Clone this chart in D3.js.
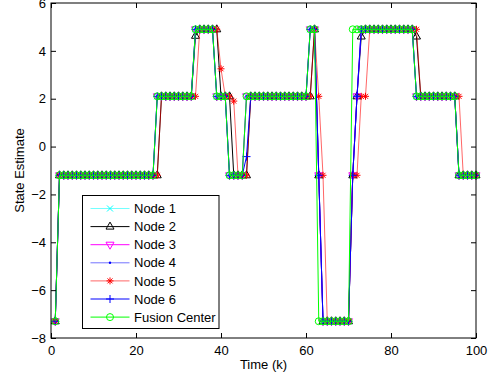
<!DOCTYPE html>
<html>
<head>
<meta charset="utf-8">
<script src="https://cdn.jsdelivr.net/npm/d3@7"></script>
<style>
  html, body { margin: 0; padding: 0; background: #fff; }
  svg { display: block; }
  text { font-family: "Liberation Sans", Arial, Helvetica, sans-serif; }
</style>
</head>
<body>
<svg id="chart" width="493" height="380"></svg>
<script>
// ---- data ----
const timeSteps = d3.range(1, 101); // k = 1..100

const fusionCenter = [
  -7.3, -1.2, -1.2, -1.2, -1.2, -1.2, -1.2, -1.2, -1.2, -1.2,
  -1.2, -1.2, -1.2, -1.2, -1.2, -1.2, -1.2, -1.2, -1.2, -1.2,
  -1.2, -1.2, -1.2, -1.2, 2.1, 2.1, 2.1, 2.1, 2.1, 2.1,
  2.1, 2.1, 2.1, 4.9, 4.9, 4.9, 4.9, 4.9, 2.1, 2.1,
  2.1, -1.2, -1.2, -1.2, -1.2, 2.1, 2.1, 2.1, 2.1, 2.1,
  2.1, 2.1, 2.1, 2.1, 2.1, 2.1, 2.1, 2.1, 2.1, 2.1,
  4.9, 4.9, -7.3, -7.3, -7.3, -7.3, -7.3, -7.3, -7.3, -7.3,
  4.9, 4.9, 4.9, 4.9, 4.9, 4.9, 4.9, 4.9, 4.9, 4.9,
  4.9, 4.9, 4.9, 4.9, 4.9, 2.1, 2.1, 2.1, 2.1, 2.1,
  2.1, 2.1, 2.1, 2.1, 2.1, -1.2, -1.2, -1.2, -1.2, -1.2
];

const node1 = [
  -7.3, -1.2, -1.2, -1.2, -1.2, -1.2, -1.2, -1.2, -1.2, -1.2,
  -1.2, -1.2, -1.2, -1.2, -1.2, -1.2, -1.2, -1.2, -1.2, -1.2,
  -1.2, -1.2, -1.2, -1.2, 2.1, 2.1, 2.1, 2.1, 2.1, 2.1,
  2.1, 2.1, 2.1, 4.9, 4.9, 4.9, 4.9, 4.9, 2.1, 2.1,
  2.1, -1.2, -1.2, -1.2, -1.2, 2.1, 2.1, 2.1, 2.1, 2.1,
  2.1, 2.1, 2.1, 2.1, 2.1, 2.1, 2.1, 2.1, 2.1, 2.1,
  4.9, 4.9, -1.2, -7.3, -7.3, -7.3, -7.3, -7.3, -7.3, -7.3,
  -1.2, 2.1, 4.9, 4.9, 4.9, 4.9, 4.9, 4.9, 4.9, 4.9,
  4.9, 4.9, 4.9, 4.9, 4.9, 2.1, 2.1, 2.1, 2.1, 2.1,
  2.1, 2.1, 2.1, 2.1, 2.1, -1.2, -1.2, -1.2, -1.2, -1.2
];

const node2 = [
  -7.3, -1.2, -1.2, -1.2, -1.2, -1.2, -1.2, -1.2, -1.2, -1.2,
  -1.2, -1.2, -1.2, -1.2, -1.2, -1.2, -1.2, -1.2, -1.2, -1.2,
  -1.2, -1.2, -1.2, -1.2, -1.2, 2.1, 2.1, 2.1, 2.1, 2.1,
  2.1, 2.1, 2.1, 4.63, 4.9, 4.9, 4.9, 4.9, 4.9, 2.1,
  2.1, 2.1, -1.2, -1.2, -1.2, -1.2, 2.1, 2.1, 2.1, 2.1,
  2.1, 2.1, 2.1, 2.1, 2.1, 2.1, 2.1, 2.1, 2.1, 2.1,
  2.1, 4.9, -1.2, -7.3, -7.3, -7.3, -7.3, -7.3, -7.3, -7.3,
  -1.2, 2.1, 4.6, 4.9, 4.9, 4.9, 4.9, 4.9, 4.9, 4.9,
  4.9, 4.9, 4.9, 4.9, 4.9, 4.6, 2.1, 2.1, 2.1, 2.1,
  2.1, 2.1, 2.1, 2.1, 2.1, -1.2, -1.2, -1.2, -1.2, -1.2
];

const node3 = [
  -7.3, -1.2, -1.2, -1.2, -1.2, -1.2, -1.2, -1.2, -1.2, -1.2,
  -1.2, -1.2, -1.2, -1.2, -1.2, -1.2, -1.2, -1.2, -1.2, -1.2,
  -1.2, -1.2, -1.2, -1.2, 2.1, 2.1, 2.1, 2.1, 2.1, 2.1,
  2.1, 2.1, 2.1, 4.9, 4.9, 4.9, 4.9, 4.9, 2.1, 2.1,
  2.1, -1.2, -1.2, -1.2, -1.2, 2.1, 2.1, 2.1, 2.1, 2.1,
  2.1, 2.1, 2.1, 2.1, 2.1, 2.1, 2.1, 2.1, 2.1, 2.1,
  4.9, 4.9, -1.2, -7.3, -7.3, -7.3, -7.3, -7.3, -7.3, -7.3,
  -1.2, 2.1, 4.9, 4.9, 4.9, 4.9, 4.9, 4.9, 4.9, 4.9,
  4.9, 4.9, 4.9, 4.9, 4.9, 2.1, 2.1, 2.1, 2.1, 2.1,
  2.1, 2.1, 2.1, 2.1, 2.1, -1.2, -1.2, -1.2, -1.2, -1.2
];

const node4 = [
  -7.3, -1.2, -1.2, -1.2, -1.2, -1.2, -1.2, -1.2, -1.2, -1.2,
  -1.2, -1.2, -1.2, -1.2, -1.2, -1.2, -1.2, -1.2, -1.2, -1.2,
  -1.2, -1.2, -1.2, -1.2, 2.1, 2.1, 2.1, 2.1, 2.1, 2.1,
  2.1, 2.1, 2.1, 4.9, 4.9, 4.9, 4.9, 4.9, 2.1, 2.1,
  2.1, -1.2, -1.2, -1.2, -1.2, 2.1, 2.1, 2.1, 2.1, 2.1,
  2.1, 2.1, 2.1, 2.1, 2.1, 2.1, 2.1, 2.1, 2.1, 2.1,
  4.9, 4.9, -1.2, -7.3, -7.3, -7.3, -7.3, -7.3, -7.3, -7.3,
  -1.2, 2.1, 4.9, 4.9, 4.9, 4.9, 4.9, 4.9, 4.9, 4.9,
  4.9, 4.9, 4.9, 4.9, 4.9, 2.1, 2.1, 2.1, 2.1, 2.1,
  2.1, 2.1, 2.1, 2.1, 2.1, -1.2, -1.2, -1.2, -1.2, -1.2
];

const node5 = [
  -7.3, -1.2, -1.2, -1.2, -1.2, -1.2, -1.2, -1.2, -1.2, -1.2,
  -1.2, -1.2, -1.2, -1.2, -1.2, -1.2, -1.2, -1.2, -1.2, -1.2,
  -1.2, -1.2, -1.2, -1.2, -1.2, 2.1, 2.1, 2.1, 2.1, 2.1,
  2.1, 2.1, 2.1, 2.1, 4.9, 4.9, 4.9, 4.9, 4.9, 3.25,
  2.1, 2.1, 1.9, -1.2, -1.2, -1.2, 2.1, 2.1, 2.1, 2.1,
  2.1, 2.1, 2.1, 2.1, 2.1, 2.1, 2.1, 2.1, 2.1, 2.1,
  2.1, 4.9, 2.1, -1.2, -7.3, -7.3, -7.3, -7.3, -7.3, -7.3,
  -1.2, -1.2, 2.1, 2.1, 4.9, 4.9, 4.9, 4.9, 4.9, 4.9,
  4.9, 4.9, 4.9, 4.9, 4.9, 4.9, 2.1, 2.1, 2.1, 2.1,
  2.1, 2.1, 2.1, 2.1, 2.1, 2.1, -1.2, -1.2, -1.2, -1.2
];

const node6 = [
  -7.3, -1.2, -1.2, -1.2, -1.2, -1.2, -1.2, -1.2, -1.2, -1.2,
  -1.2, -1.2, -1.2, -1.2, -1.2, -1.2, -1.2, -1.2, -1.2, -1.2,
  -1.2, -1.2, -1.2, -1.2, 2.1, 2.1, 2.1, 2.1, 2.1, 2.1,
  2.1, 2.1, 2.1, 4.9, 4.9, 4.9, 4.9, 4.9, 2.1, 2.1,
  2.1, -1.2, -1.2, -1.2, -1.2, -0.42, 2.1, 2.1, 2.1, 2.1,
  2.1, 2.1, 2.1, 2.1, 2.1, 2.1, 2.1, 2.1, 2.1, 2.1,
  4.9, 4.9, -1.2, -7.3, -7.3, -7.3, -7.3, -7.3, -7.3, -7.3,
  -1.2, 2.1, 4.9, 4.9, 4.9, 4.9, 4.9, 4.9, 4.9, 4.9,
  4.9, 4.9, 4.9, 4.9, 4.9, 2.1, 2.1, 2.1, 2.1, 2.1,
  2.1, 2.1, 2.1, 2.1, 2.1, -1.2, -1.2, -1.2, -1.2, -1.2
];

const seriesNames = ["Node 1", "Node 2", "Node 3", "Node 4", "Node 5", "Node 6", "Fusion Center"];
const seriesValues = [node1, node2, node3, node4, node5, node6, fusionCenter];
const xTicks = [0, 20, 40, 60, 80, 100];
const yTicks = [-8, -6, -4, -2, 0, 2, 4, 6];
const xLabel = "Time (k)";
const yLabel = "State Estimate";

// ---- styles (not data) ----
const styles = [
  { color: "#00ffff", lineOpacity: 0.55, marker: "x" },
  { color: "#000000", lineOpacity: 1, marker: "^" },
  { color: "#ff00ff", lineOpacity: 1, marker: "v" },
  { color: "#0000ff", lineOpacity: 0.55, marker: "." },
  { color: "#ff0000", lineOpacity: 0.6, marker: "*" },
  { color: "#0000ff", lineOpacity: 1, marker: "+" },
  { color: "#00ff00", lineOpacity: 1, marker: "o" }
];

const svg = d3.select("#chart");
const L = 51, R = 476, T = 3, B = 338;
const x = d3.scaleLinear().domain([0, 100]).range([L, R]);
const y = d3.scaleLinear().domain([-8, 6]).range([B, T]);

svg.append("rect").attr("width", 493).attr("height", 380).attr("fill", "#fff");

const markerPaths = {
  "x": "M-3,-3L3,3M-3,3L3,-3",
  "^": "M0,-4.5L4,2.5L-4,2.5Z",
  "v": "M0,4.5L4,-2.5L-4,-2.5Z",
  "*": "M-3.5,0L3.5,0M0,-3.5L0,3.5M-2.5,-2.5L2.5,2.5M-2.5,2.5L2.5,-2.5",
  "+": "M-4,0L4,0M0,-4L0,4"
};

function drawMarker(g, type, color) {
  if (type === "o") {
    g.append("circle").attr("r", 3.5).attr("fill", "none").attr("stroke", color).attr("stroke-width", 1);
  } else if (type === ".") {
    g.append("circle").attr("r", 1.2).attr("fill", color);
  } else {
    g.append("path").attr("d", markerPaths[type]).attr("fill", "none").attr("stroke", color).attr("stroke-width", 1);
  }
}

const plot = svg.append("g");
const line = d3.line().x(d => x(d[0])).y(d => y(d[1]));

seriesValues.forEach((vals, i) => {
  const st = styles[i];
  const pts = timeSteps.map((k, j) => [k, vals[j]]);
  const g = plot.append("g");
  g.append("path").datum(pts).attr("d", line)
    .attr("fill", "none").attr("stroke", st.color)
    .attr("stroke-opacity", st.lineOpacity).attr("stroke-width", 1);
  pts.forEach(p => {
    const mg = g.append("g").attr("transform", `translate(${x(p[0])},${y(p[1])})`);
    drawMarker(mg, st.marker, st.color);
  });
});

// ---- axes ----
const fmt = d3.format("");
const axB = svg.append("g").attr("transform", `translate(0,${B})`)
  .call(d3.axisBottom(x).tickValues(xTicks).tickSize(-5).tickPadding(8).tickFormat(fmt));
const axT = svg.append("g").attr("transform", `translate(0,${T})`)
  .call(d3.axisTop(x).tickValues(xTicks).tickSize(-5).tickFormat(""));
const axL = svg.append("g").attr("transform", `translate(${L},0)`)
  .call(d3.axisLeft(y).tickValues(yTicks).tickSize(-5).tickPadding(5).tickFormat(d3.format("")));
const axR = svg.append("g").attr("transform", `translate(${R},0)`)
  .call(d3.axisRight(y).tickValues(yTicks).tickSize(-5).tickFormat(""));
[axB, axT, axL, axR].forEach(a => {
  a.select(".domain").remove();
  a.selectAll("line").attr("stroke", "#000");
  a.selectAll("text").attr("fill", "#000").style("font-size", "13px")
    .style("font-family", '"Liberation Sans", Arial, sans-serif');
});

svg.append("rect").attr("x", L).attr("y", T).attr("width", R - L).attr("height", B - T)
  .attr("fill", "none").attr("stroke", "#000").attr("stroke-width", 1);

svg.append("text").attr("x", (L + R) / 2).attr("y", 369).attr("text-anchor", "middle")
  .style("font-size", "13px").text(xLabel);
svg.append("text").attr("transform", `translate(24,${(T + B) / 2}) rotate(-90)`)
  .attr("text-anchor", "middle").style("font-size", "13px").text(yLabel);

// ---- legend ----
const lg = svg.append("g");
const lx = 82.5, ly = 195.5, lw = 136.5, lh = 133;
lg.append("rect").attr("x", lx).attr("y", ly).attr("width", lw).attr("height", lh)
  .attr("fill", "#fff").attr("stroke", "#000").attr("stroke-width", 1);
seriesNames.forEach((name, i) => {
  const st = styles[i];
  const cy = 208.5 + i * 18.1;
  lg.append("line").attr("x1", 90.5).attr("x2", 129.5).attr("y1", cy).attr("y2", cy)
    .attr("stroke", st.color).attr("stroke-opacity", st.lineOpacity).attr("stroke-width", 1);
  const mg = lg.append("g").attr("transform", `translate(110,${cy})`);
  drawMarker(mg, st.marker, st.color);
  lg.append("text").attr("x", 134).attr("y", cy + 4.6).style("font-size", "13px").text(name);
});
</script>
</body>
</html>
